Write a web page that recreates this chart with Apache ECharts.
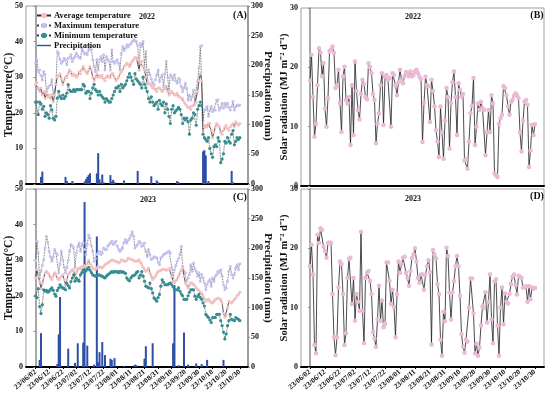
<!DOCTYPE html>
<html><head><meta charset="utf-8">
<script src="https://cdn.jsdelivr.net/npm/echarts@6/dist/echarts.min.js"></script>
<style>html,body{margin:0;padding:0;background:#fff}#c{width:550px;height:394px}</style>
</head><body><div id="c"></div>
<script>
// ---- data (day index 0 = 06/02, 150 = 10/30) ----
const tickLabels2023 = ['23/06/02','23/06/12','23/06/22','23/07/02','23/07/12','23/07/22','23/08/01','23/08/11','23/08/21','23/08/31','23/09/10','23/09/20','23/09/30','23/10/10','23/10/20','23/10/30'];

const maxT2022 = [34,34.9,31.6,32,30.5,29.3,31.6,30.7,26,27,
27.5,27.9,29.3,25,26.5,28.3,37.2,36.7,35,33.9,
34.5,35.3,34.9,33.5,35.3,35.5,36.3,34.4,35.3,35.8,
36.7,36,35.5,35.3,38.1,37.2,36.5,36.8,36.3,37.7,
39.1,37.7,35,33,31.6,34.9,32,35,35.8,34.4,
36.3,32,35.8,35,34.4,32,37.7,34.4,33.9,34.5,
34.9,33.9,32,36.7,38.6,37.5,38.1,39.1,38.5,39.1,
39.5,40,40.5,40.3,40,39,32,39.5,38.6,40,
33,37.2,29.3,32,30.7,29.5,28.3,28,29.3,30.7,
32,28.8,30,30.7,27.4,31,34.4,30,26.4,30.7,
30.2,29.3,30.7,29,28.3,29.7,29.3,27.4,26,27,
28.3,26.9,23.6,25,23.6,24.5,26.4,22.7,26.4,29,
32.5,38.6,38.8,18,20.8,21,21.8,19,20.8,21.8,
20.4,21,20.8,23.6,23.6,20.8,21.5,22.7,21.3,22.7,
21.8,22.7,21.5,20.8,21.8,23.2,20.8,21.8,22.2,22,
22.2];
const avgT2022 = [28,28.5,27,26,27,25,26,24,25.5,24.5,
25,24,25,23,25,28,30,30.5,31,29.5,
28,29,30,30,31,32,31.5,30.5,31,30.5,
30,30.5,31.5,31,32,33,32,31.5,31,32,
33,32,30,29,30,31,30,30.5,30,30.5,
29.5,29,30,30.5,30,30,31,31,30,29,
29.5,30,31,31.5,32,33,33.5,34,33.5,33,
34,34.5,35,35.5,35.5,35,32,34,34.5,33,
32,30,28,28.5,28,27.5,27,27.5,26.5,26,
27,27,26.5,26,26.5,27,27.5,26,25,25.5,
26,25.5,25,25,25.5,24.5,24.5,24,24,23,
22.5,22,21.5,21.5,21,22,22,22.5,23,26,
29,31,29,15,16,16.5,16,17,17,15,
13,14.5,16,17,16.5,16,14.5,14,15,16,
16.5,15.5,15,16,16.5,17,16,17.5,17,16.5,
17];
const minT2022 = [23,23,19.5,23,22.5,21,21.8,19,20,19.5,
18.5,22,20.8,18.5,18,19,24.1,26,24.6,24,
25,24,24.6,25.5,27.9,26.4,26,26,26.5,26,
26.5,26.5,26.5,26.5,26.5,28,27.5,25.5,26,26,
24,25.5,27,28,26.5,26,25,26,25,24.5,
24,23,24,23.5,23,23,24,25,26,27,
27,27.5,26,28,27,27.5,28,29,30,31,
30,29,28,31,29.5,29,28.5,28,27,30,
28,27,26,24,23,24.5,23,22,22.5,23,
21,23.5,22.5,22,23,20,22.5,21,19,17,
21,22,20,20.5,21,21.5,21,19.5,17,18.5,
18,18.5,17.5,14,18,18.5,20,19.5,16.5,21,
22,23,22,14,13,12.5,12,13,10,8.5,
7.5,10.5,11,10.5,13,12,6,7,8.5,12,
11.5,13,12,11.5,14,15,11,12,13,12.5,
13];
const precip2022 = [[4,12],[5,21],[22,12],[23,5],[27,5],[28,2],[36,4],[37,8],[38,12],[39,15],[40,18],[45,18],[46,52],[47,8],[49,16],[50,3],[55,15],[56,4],[57,7],[58,3],[65,6],[75,22],[85,13],[89,6],[90,3],[104,5],[105,3],[123,55],[124,57],[125,48],[127,5],[144,22],[145,3]];
const solar2022 = [17.8,22.1,15,8.3,10.5,17,23.2,22.5,18.5,20.7,
13,10,14.8,22.7,23,23.5,22.4,16.5,17,19.6,
14,9.1,18.5,20.1,14.5,13.9,15,6.9,17,8.6,
21,16,12.8,11.2,15.5,17.9,17.2,15,14.6,20.7,
20,19,15.5,14.5,7.2,10.5,12.2,17,19,10.3,
18.4,18.7,17.9,18.2,10,19,18.7,17,15.3,17.5,
19.6,17.8,17.3,18.5,19.2,19,18.5,19.3,18.5,18.7,
19.3,19.6,19,18.4,18,7.4,14,18.4,17,16.8,
10.8,17.9,16,13.4,9.4,7.5,4.9,13.4,9,4.6,
11,16.5,15,6.3,14,17.5,19.3,15,8.6,17.3,
16.2,15,15.5,4.3,4.5,2.9,7.5,12.2,13.5,18.2,
6.9,10,13.9,12.8,14.2,13.1,12.8,5.2,9,12.8,
9.1,15.3,13.9,2.1,1.8,1.5,10.5,11.4,12,16.8,
16.5,15.3,13.4,12,14.2,14.5,15.2,15.6,15.3,14.8,
9,5.8,11,14.2,14.5,13.7,3.2,6,10.3,8.6,
10.4];

const maxT2023 = [30,35.3,32,25,27,28.5,30.2,33.4,36.7,35,
32.5,31,29.7,31,33,32,31.6,26.5,29,32.5,
30.2,28,26.5,27.9,30,32.5,34.4,34,33.4,27.9,
32,33.9,34.8,32.5,34.4,34.8,33,31.6,34.5,37.1,
36.2,34,32.5,29.7,30.5,31.6,32,32.5,31.6,32,
33.4,33,33,34,34.4,35,35.3,34.4,35,35.3,
34,33,32.5,33,33.4,35,35.8,34.8,35.5,36.2,
37,38,36.7,33.4,34,34.4,35.3,35,33.9,34.5,
34.8,32.5,31,33,31.5,30.2,30.5,31,30.8,30.6,
29.5,28.7,30.6,31,31.6,31.8,32,32.3,32.5,32,
28,25,27.3,28.5,29.7,30.5,31.6,33.9,28.2,27,
26.5,24.1,25,26,28.7,26.9,29.2,27.5,26.9,25.5,
26.5,24.1,26,25,23.6,21.8,23.2,24,24.6,22.7,
25,24.1,25.5,26,26.9,26.5,27.3,25.5,23,21.8,
22.2,24.1,26.9,28.2,26,25,26,27.9,28.7,27.3,
29];
const avgT2023 = [25,27.4,25.5,24,22,23.5,25,26.5,27,26.5,
26,25,24.6,25.5,26.5,26,25,24.6,25,25.5,
26,24.5,23.2,24.5,26,26.5,27,27.4,27,25.5,
26.5,27.5,27.8,27.5,28.2,28,28.5,28,29,30,
29,28.5,27.8,27.5,27.4,27.8,28.2,28,28,27.8,
28.2,28.7,29,29.2,29.5,29.8,30.1,30,29.8,29.7,
29.5,29.2,29.5,30.1,30,29.8,29.7,30,30.6,30.4,
30.3,30.1,30,29.7,29.7,29.8,30.1,29.5,28.7,28,
27.5,26.9,27.2,27.8,26.5,25.5,24.6,25,25.5,26.2,
26.9,27,27.2,27.4,27.4,27.4,27.2,27.4,27.6,27.4,
25.5,24,23.7,24.2,24.6,25.5,26.5,27.2,27.8,25.5,
23.7,23,22.2,23,23.7,23.5,23.2,22.8,22.2,21.8,
21.5,21,20.8,20,19.2,18.5,18.8,19,18.5,18.2,
18,18.5,19,19.2,19.4,19.2,19,18,15,14,
14.4,16.7,18.5,18.2,18,18.5,19,19.4,20,20.4,
21];
const minT2023 = [20,19.5,22,17,15,17.5,21.7,21.3,21.5,21,
21.3,21.8,22.2,21.5,20.5,19.9,21.5,22.2,23.1,22.5,
22.2,22,21.7,23.5,22.8,22.2,24,25,25.9,24.1,
25,24.5,24.1,25.9,26.5,27.2,26.5,27,27.5,28,
27.2,26.5,25.9,25.7,25.5,25.7,25.9,25.8,25.6,25.5,
25.2,25,25.5,25.9,26.2,26.5,26.8,26.6,26.9,26.7,
26.8,26.5,26.9,26.6,26.8,26.5,26.3,25,24.5,24.2,
25,25.5,25.7,25.9,26.5,26.8,25,25.8,26.8,25.5,
24.1,22.7,22.5,22.2,23.6,22,20.8,19.4,19,18.5,
19.5,20.4,22.7,24.5,23.8,23.1,23.1,23.1,23.4,23.6,
23.1,22.5,21.7,21.7,21.7,22.2,21.3,20.5,20,19,
19,19,20,21,21.7,21.7,21.7,19.9,19,19.8,
20.4,19.5,19,18,17.1,14.8,14.3,13.9,13.2,12.5,
13.9,13.9,13.9,14.8,14.8,14.8,13,11.6,9.8,7.9,
9.3,11.6,13,14.8,13.4,13.2,13,13.9,13.6,13.4,
13];
const precip2023 = [[3,12],[4,57],[16,5],[17,55],[18,118],[24,31],[29,7],[31,40],[35,41],[36,278],[38,36],[43,4],[45,220],[46,8],[47,25],[49,42],[51,20],[55,14],[56,12],[58,15],[65,2],[73,4],[74,3],[80,14],[81,35],[86,40],[101,40],[102,138],[105,3],[109,58],[112,4],[118,6],[122,5],[126,12],[138,12]];
const solar2023 = [17,20.6,15.6,3.7,2.3,22.3,20.9,23.4,23.1,20.3,
19.5,18.4,20.9,21,20.9,12.3,5,2,5,13.4,
17.8,17.3,12.3,3.7,5.7,15,18.2,18.4,10.6,15,
7.8,12.3,11,9.5,22.8,9.5,4,15,15.9,16.2,
14.5,12.3,5.9,4.8,3.4,8,13.7,7.8,11.2,6.7,
7.3,17.6,17.6,14.5,10.6,13,10.1,5,12.3,17.8,
15.9,17.3,18.4,18.6,15.9,15,13.7,16.2,18.4,19,
20,17.8,15,14.2,15.6,15.6,13,15.5,17,18,
16,3.8,19.7,19,18.3,14,12.3,4.6,1.9,9.3,
7.7,20.1,18.7,12.5,8,12.5,14.5,17,18.7,17,
12,5.5,3.4,2.4,4.6,4.3,10,14.9,14.9,9,
2.3,3.9,1.9,3.3,7,10.2,10,12.6,7.5,11,
15.6,8,4,14.4,14.8,7,1.9,10,13.4,7.2,
12.4,11,10.7,12.3,14,15.2,15.6,13.8,12.2,15.4,
15.2,15,13.4,13.5,13.6,11,13.6,11.4,13.4,13.2,
13.3];

// ---- chart ----
const FONT = '"Liberation Serif","Times New Roman",serif';
const tickDays = tickLabels2023.map((_, i) => i * 10);
const pairs = a => a.map((v, i) => [i, v]);
const chart = echarts.init(document.getElementById('c'), null, {renderer: 'canvas'});

const grids = [
  {left: 26, top: 6, width: 222, height: 178},
  {left: 301, top: 8, width: 243, height: 178},
  {left: 26, top: 189, width: 222, height: 178},
  {left: 301, top: 189, width: 243, height: 178}
].map(g => Object.assign(g, {show: true, borderColor: '#a0a0a0', borderWidth: 1, backgroundColor: 'transparent'}));

function xAx(gi, min, showLabels) {
  return {
    type: 'value', gridIndex: gi, min: min, max: 156,
    axisLine: {show: true, onZero: false, lineStyle: {color: '#000', width: 2}},
    axisTick: {show: showLabels, customValues: tickDays, length: 2, lineStyle: {color: '#000'}},
    splitLine: {show: false},
    axisLabel: {show: showLabels, customValues: tickDays, rotate: 40, fontFamily: FONT, fontWeight: 'bold', fontSize: 7.5, color: '#111', margin: 4,
      formatter: v => tickLabels2023[Math.round(v / 10)] || ''}
  };
}
function yAx(gi, max, interval, pos) {
  return {
    type: 'value', gridIndex: gi, min: 0, max: max, interval: interval, position: pos,
    axisLine: {show: true, lineStyle: {color: '#8a8a8a', width: 1.5}},
    axisTick: {show: true, length: 2, lineStyle: {color: '#8a8a8a'}},
    splitLine: {show: false},
    axisLabel: {fontFamily: FONT, fontWeight: 'bold', fontSize: 8, color: '#111', margin: 3}
  };
}

function tempSeries(xi, yi, avg, mx, mn, pr) {
  return [
    {name: 'Precipitation', type: 'bar', xAxisIndex: xi, yAxisIndex: yi + 1, data: pr, barWidth: 2,
      itemStyle: {color: '#2d4fa6'}, z: 1},
    {name: 'Maximum temperature', type: 'line', xAxisIndex: xi, yAxisIndex: yi, data: pairs(mx),
      symbol: 'circle', symbolSize: 3, showAllSymbol: true,
      lineStyle: {color: '#3a3a3a', width: 0.8, type: 'dotted'}, itemStyle: {color: '#c4c0f2'}, z: 3},
    {name: 'Average temperature', type: 'line', xAxisIndex: xi, yAxisIndex: yi, data: pairs(avg),
      symbol: 'circle', symbolSize: 3, showAllSymbol: true,
      lineStyle: {color: '#2a2a2a', width: 0.8}, itemStyle: {color: '#f4c0c0'}, z: 4},
    {name: 'Minimum temperature', type: 'line', xAxisIndex: xi, yAxisIndex: yi, data: pairs(mn),
      symbol: 'circle', symbolSize: 3.2, showAllSymbol: true,
      lineStyle: {color: '#333', width: 0.8, type: 'dotted'}, itemStyle: {color: '#358d90'}, z: 5}
  ];
}
function solarSeries(xi, yi, s) {
  return {name: 'Solar radiation', type: 'line', xAxisIndex: xi, yAxisIndex: yi, data: pairs(s),
    symbol: 'emptyCircle', symbolSize: 2.5, showAllSymbol: true,
    lineStyle: {color: '#1e1e1e', width: 0.8}, itemStyle: {color: '#eab8d6', borderWidth: 0.7}};
}

function txt(x, y, t, size, rot) {
  return {type: 'text', x: x, y: y, rotation: rot || 0, z: 50,
    style: {text: t, fontFamily: FONT, fontWeight: 'bold', fontSize: size, fill: '#111', textAlign: 'center', textVerticalAlign: 'middle'}};
}
const R = Math.PI / 2;

chart.setOption({
  animation: false,
  backgroundColor: '#fff',
  grid: grids,
  xAxis: [xAx(0, -7, false), xAx(1, -6, false), xAx(2, -7, true), xAx(3, -6, true)],
  yAxis: [
    yAx(0, 50, 10, 'left'), yAx(0, 300, 50, 'right'), yAx(1, 30, 10, 'left'),
    yAx(2, 50, 10, 'left'), yAx(2, 300, 50, 'right'), yAx(3, 30, 10, 'left')
  ],
  legend: {
    orient: 'vertical', left: 31, top: 6, itemGap: 1, itemWidth: 14, itemHeight: 7,
    textStyle: {fontFamily: FONT, fontWeight: 'bold', fontSize: 8.5, color: '#111', padding: [0, 0, 0, -2]},
    data: [
      {name: 'Average temperature'},
      {name: 'Maximum temperature'},
      {name: 'Minimum temperature'},
      {name: 'Precipitation', icon: 'path://M0 0H20V2H0Z'}
    ]
  },
  graphic: [
    txt(147, 17, '2022', 8), txt(240, 15, '(A)', 10),
    txt(413, 17, '2022', 8), txt(537, 15, '(B)', 10),
    txt(148, 200, '2023', 8), txt(240, 197, '(C)', 10),
    txt(413, 199, '2023', 8), txt(537, 196, '(D)', 10),
    txt(9, 95, 'Temperature(°C)', 11.5, R), txt(9, 278, 'Temperature(°C)', 11.5, R),
    txt(268, 96, 'Precipitation (mm)', 11, -R), txt(268, 278, 'Precipitation (mm)', 11, -R),
    txt(284, 97, 'Solar radiation (MJ m⁻² d⁻¹)', 10.5, R), txt(284, 278, 'Solar radiation (MJ m⁻² d⁻¹)', 10.5, R)
  ],
  series: [].concat(
    tempSeries(0, 0, avgT2022, maxT2022, minT2022, precip2022),
    [solarSeries(1, 2, solar2022)],
    tempSeries(2, 3, avgT2023, maxT2023, minT2023, precip2023),
    [solarSeries(3, 5, solar2023)]
  )
});
</script>
</body></html>
